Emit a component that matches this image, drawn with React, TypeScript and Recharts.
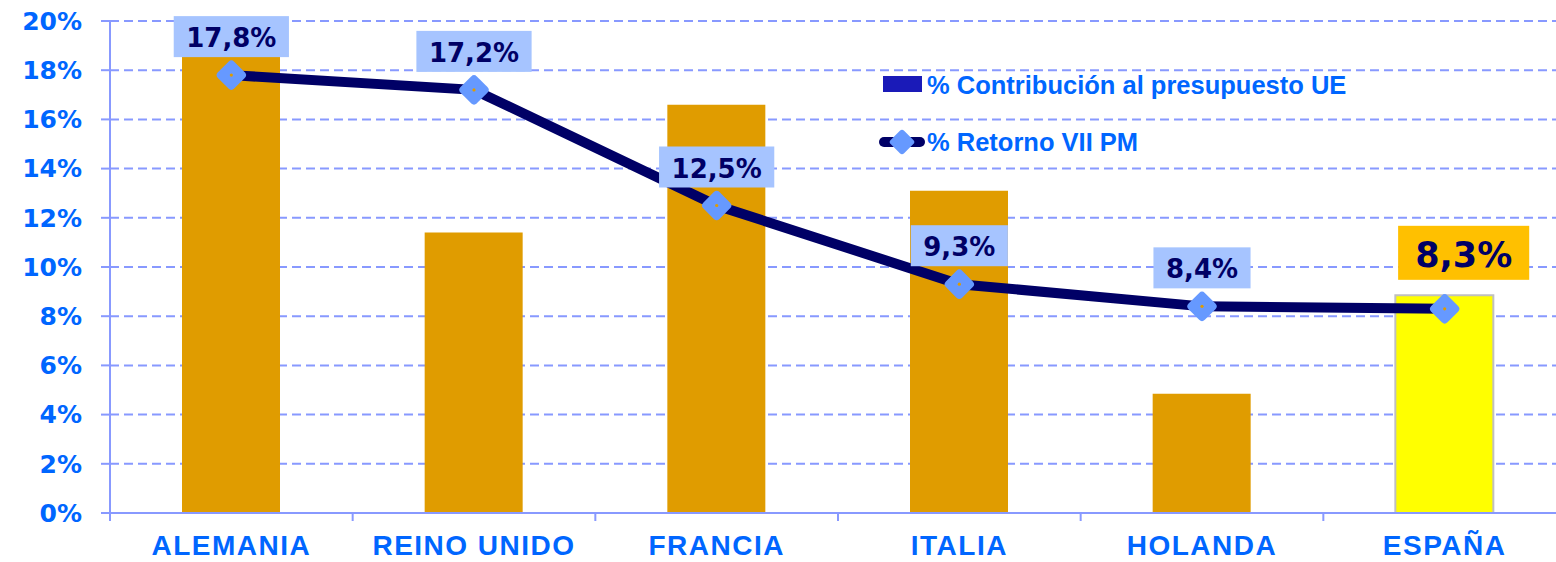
import React from "react";
import {
  ComposedChart,
  Bar,
  Line,
  Cell,
  XAxis,
  YAxis,
  CartesianGrid,
  Legend,
  LabelList,
} from "recharts";

// data
const categories = ["ALEMANIA", "REINO UNIDO", "FRANCIA", "ITALIA", "HOLANDA", "ESPAÑA"];
const contribucion = [19.7, 11.4, 16.6, 13.1, 4.85, 8.85];
const retorno = [17.8, 17.2, 12.5, 9.3, 8.4, 8.3];
const yTicks = [0, 2, 4, 6, 8, 10, 12, 14, 16, 18, 20];
const barName = "% Contribución al presupuesto UE";
const lineName = "% Retorno VII PM";
const highlight = "ESPAÑA";

const data = categories.map((c, i) => ({
  name: c,
  contribucion: contribucion[i],
  retorno: retorno[i],
}));

const BLUE_TEXT = "#0066FF";
const GRID = "#8899FF";
const NAVY = "#000066";
const BAR = "#E09C00";
const MARKER = "#6699FF";

const fmt = (v: number) => v.toFixed(1).replace(".", ",") + "%";

// rough DejaVu Sans Bold advance widths
const textWidth = (s: string, size: number) => {
  let w = 0;
  for (const ch of s) {
    if (ch === ",") w += 0.38;
    else if (ch === "%") w += 1.002;
    else w += 0.696;
  }
  return w * size;
};

const Diamond = (props: any) => {
  const { cx, cy } = props;
  if (cx == null || cy == null) return null;
  return (
    <g>
      <rect
        x={cx - 11.5}
        y={cy - 11.5}
        width={23}
        height={23}
        rx={4}
        fill={MARKER}
        transform={`rotate(45 ${cx} ${cy})`}
      />
      <circle cx={cx} cy={cy} r={1.6} fill="#E09C00" />
    </g>
  );
};

const ValueBox = (props: any) => {
  const { x, y, value, index } = props;
  if (x == null || y == null) return null;
  const hi = categories[index] === highlight;
  const label = fmt(Number(value));
  const size = hi ? 35 : 26;
  const w = textWidth(label, size) + (hi ? 34 : 25);
  const h = hi ? 54 : 41;
  const bottom = y - (hi ? 29 : 18);
  const cx = x + (hi ? 19 : 0);
  return (
    <g>
      <rect x={cx - w / 2} y={bottom - h} width={w} height={h} fill={hi ? "#FFC000" : "#A6C4FF"} />
      <text
        x={cx}
        y={bottom - (hi ? 13 : 10)}
        textAnchor="middle"
        fill={NAVY}
        fontFamily="DejaVu Sans"
        fontWeight="bold"
        fontSize={size}
      >
        {label}
      </text>
    </g>
  );
};

const XTick = (props: any) => {
  const { x, y, payload, index } = props;
  const off = payload?.offset ?? 0;
  return (
    <g>
      <line x1={x - off} x2={x - off} y1={y} y2={y + 8} stroke={GRID} strokeWidth={2} />
      {index === categories.length - 1 && (
        <line x1={x + off} x2={x + off} y1={y} y2={y + 8} stroke={GRID} strokeWidth={2} />
      )}
      <text
        x={x}
        y={y + 42}
        textAnchor="middle"
        fill={BLUE_TEXT}
        fontFamily="Liberation Sans"
        fontWeight="bold"
        fontSize={28}
        letterSpacing={1.5}
      >
        {payload.value}
      </text>
    </g>
  );
};

const renderLegend = () => (
  <svg width={620} height={110}>
    <rect x={4} y={6} width={39} height={16} fill="#1A1AB8" />
    <text x={48} y={24} fill={BLUE_TEXT} fontFamily="Liberation Sans" fontWeight="bold" fontSize={25.5}>
      {barName}
    </text>
    <line x1={5} x2={41} y1={72} y2={72} stroke={NAVY} strokeWidth={10} strokeLinecap="round" />
    <rect
      x={23 - 9.5}
      y={72 - 9.5}
      width={19}
      height={19}
      rx={3}
      fill={MARKER}
      transform={`rotate(45 23 72)`}
    />
    <text x={48} y={81} fill={BLUE_TEXT} fontFamily="Liberation Sans" fontWeight="bold" fontSize={25.5}>
      {lineName}
    </text>
  </svg>
);

export default function App() {
  return (
    <div
      style={{
        position: "absolute",
        left: 0,
        top: 0,
        width: 1556,
        height: 562,
        overflow: "hidden",
        background: "#fff",
      }}
    >
      <ComposedChart
        width={1566}
        height={562}
        data={data}
        margin={{ top: 21, right: 0, left: 0, bottom: 0 }}
      >
        <CartesianGrid
          vertical={false}
          stroke={GRID}
          strokeDasharray="9 5"
          strokeWidth={2}
        />
        <XAxis
          dataKey="name"
          height={49}
          interval={0}
          axisLine={{ stroke: GRID, strokeWidth: 2 }}
          tickLine={false}
          tickSize={0}
          tickMargin={0}
          tick={<XTick />}
        />
        <YAxis
          width={110}
          domain={[0, 20]}
          ticks={yTicks}
          interval={0}
          tickFormatter={(v) => `${v}%`}
          axisLine={{ stroke: GRID, strokeWidth: 2 }}
          tickLine={{ stroke: GRID, strokeWidth: 2 }}
          tickSize={9}
          tickMargin={19}
          tick={{
            fill: BLUE_TEXT,
            fontSize: 25,
            fontWeight: "bold",
            fontFamily: "DejaVu Sans",
          }}
        />
        <Legend
          layout="vertical"
          align="center"
          verticalAlign="middle"
          wrapperStyle={{ left: 879, top: 70, width: 620, height: 110 }}
          content={renderLegend}
        />
        <Bar dataKey="contribucion" name={barName} barSize={98} isAnimationActive={false}>
          {data.map((d) => (
            <Cell
              key={d.name}
              fill={d.name === highlight ? "#FFFF00" : BAR}
              stroke={d.name === highlight ? "#C0C0C0" : "none"}
              strokeWidth={d.name === highlight ? 2 : 0}
            />
          ))}
        </Bar>
        <Line
          dataKey="retorno"
          name={lineName}
          type="linear"
          stroke={NAVY}
          strokeWidth={10}
          dot={<Diamond />}
          activeDot={false}
          isAnimationActive={false}
        >
          <LabelList dataKey="retorno" content={<ValueBox />} />
        </Line>
      </ComposedChart>
    </div>
  );
}
